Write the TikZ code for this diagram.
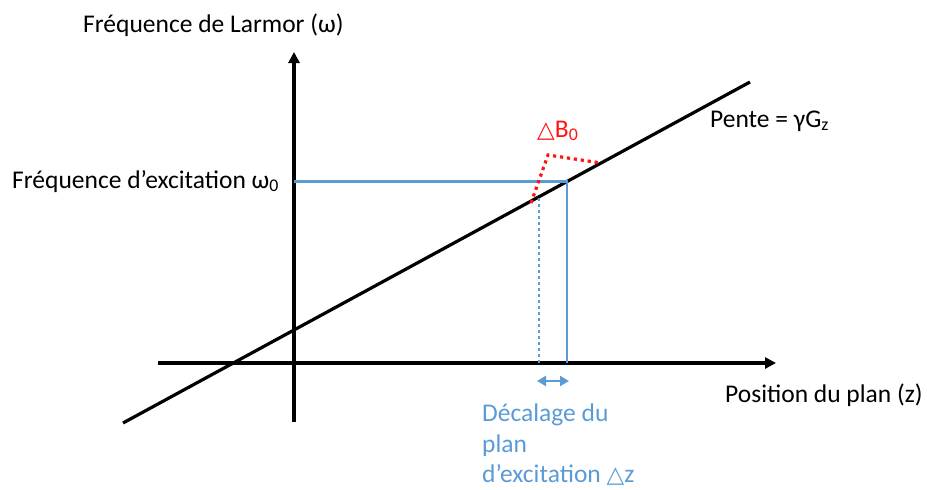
\documentclass[tikz,border=0pt]{standalone}
\usepackage{fontspec}
\setmainfont{Carlito}
\newfontfamily\symfont{DejaVu Sans}
\usetikzlibrary{arrows.meta}
\definecolor{myblue}{RGB}{91,155,213}
\definecolor{myred}{RGB}{255,20,20}
\begin{document}
\begin{tikzpicture}[x=1pt,y=-1pt,
  every node/.style={font=\fontsize{25.5}{30}\selectfont, inner sep=0pt},
  lbl/.style={anchor=base west},
  axis/.style={line width=3.2pt,-{Triangle[length=11pt,width=11pt]}},
  mainline/.style={line width=3.2pt},
  blueline/.style={myblue,line width=2.8pt},
  bluedot/.style={myblue,line width=2.8pt,dash pattern=on 2.8pt off 3.2pt},
  reddot/.style={myred,line width=3.2pt,dash pattern=on 3.2pt off 3.8pt},
  dbl/.style={myblue,line width=2.8pt,{Triangle[length=9pt,width=10pt]}-{Triangle[length=9pt,width=10pt]}}]
\useasboundingbox (0,0) rectangle (927,490);
% axes
\coordinate (yb) at (294,422); \coordinate (yt) at (294,52);
\coordinate (xl) at (158,363); \coordinate (xr) at (776,363);
\draw[axis] (yb) -- (yt);
\draw[axis] (xl) -- (xr);
% main line
\coordinate (l1) at (123,423); \coordinate (l2) at (750,82);
\draw[mainline] (l1) -- (l2);
% blue lines
\coordinate (h0) at (294,181.5); \coordinate (P) at (567,181.5); \coordinate (v0) at (567,363);
\draw[blueline] (h0) -- (P) -- (v0);
\coordinate (d1) at (539,198); \coordinate (d0) at (539,363);
\draw[bluedot] (d1) -- (d0);
% red dotted
\coordinate (r1) at (531,203); \coordinate (r2) at (548,155); \coordinate (r3) at (601,163);
\draw[reddot] (r1) -- (r2) -- (r3);
% double arrow
\coordinate (a1) at (537,381); \coordinate (a2) at (569,381);
\draw[dbl] (a1) -- (a2);
% labels
\node[lbl] (ylab) at (83,32) {Fréquence de Larmor (ω)};
\node[lbl] (w0) at (12,188) {Fréquence d’excitation ω\textsubscript{0}};
\node[lbl] (pente) at (710,127) {Pente = γG\textsubscript{z}};
\node[lbl] (xlab) at (725,402) {Position du plan (z)};
\node[lbl,myred] (dB) at (537,137) {{\symfont\fontsize{23}{28}\selectfont △}B\textsubscript{0}};
\node[lbl,myblue] (dec) at (482,421) {Décalage du};
\node[lbl,myblue] (dec2) at (482,452) {plan};
\node[lbl,myblue] (dec3) at (482,482) {d’excitation {\symfont\fontsize{23}{28}\selectfont △}z};
\end{tikzpicture}
\end{document}
